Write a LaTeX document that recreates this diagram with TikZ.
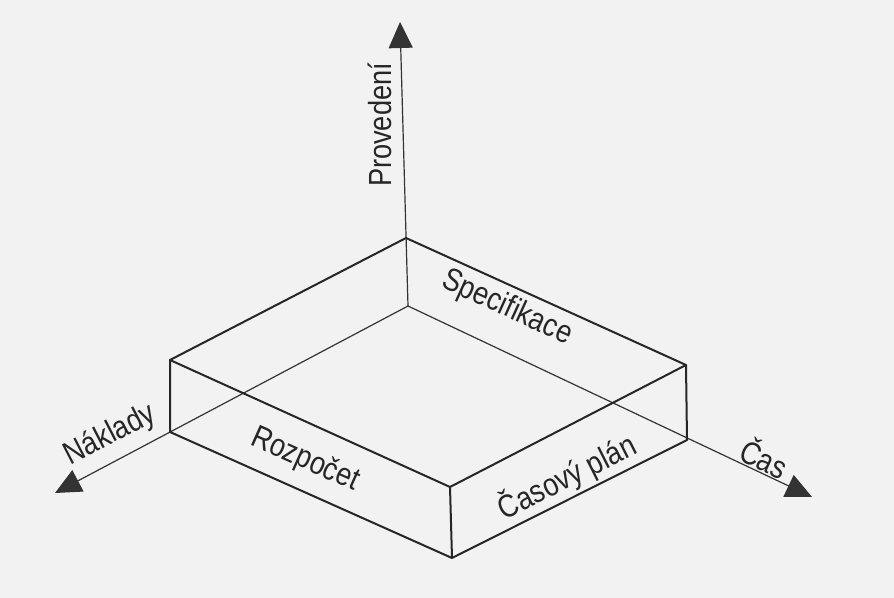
\documentclass[tikz,border=0pt]{standalone}
\usepackage{fontspec}
\setmainfont{Liberation Sans}[FakeStretch=0.85]
\usetikzlibrary{arrows.meta, calc}

\begin{document}
\begin{tikzpicture}[x=0.5pt, y=-0.5pt,
    >={Triangle[length=13pt, width=12pt]},
    axisline/.style={line width=0.6pt, black!80},
    boxedge/.style={line width=1pt, black!85, line join=round},
    lbl/.style={font=\fontsize{16}{19}\selectfont, text=black!85, inner sep=0pt}]
  % page background
  \fill[black!5] (0,0) rectangle (894,598);
  \useasboundingbox (0,0) rectangle (894,598);

  % axes origin and tips
  \coordinate (O) at (408,306);
  \coordinate (provTip) at (400,22);
  \coordinate (naklTip) at (55,493);
  \coordinate (casTip) at (812,497);

  % box corners
  \coordinate (Tb) at (406,238);
  \coordinate (Tl) at (170,360);
  \coordinate (Tr) at (686,365);
  \coordinate (Tf) at (450,487);
  \coordinate (Bl) at (170,432);
  \coordinate (Br) at (687,440);
  \coordinate (Bf) at (452,558);

  % axes
  \draw[axisline, ->] (O) -- (provTip);
  \draw[axisline, ->] (O) -- (naklTip);
  \draw[axisline, ->] (O) -- (casTip);

  % box
  \draw[boxedge] (Tl) -- (Tb) -- (Tr) -- (Tf) -- cycle;
  \draw[boxedge] (Tl) -- (Bl) -- (Bf) -- (Br) -- (Tr);
  \draw[boxedge] (Tf) -- (Bf);

  % labels
  \node[lbl, rotate=90] (proved) at (380,125) {Provedení};
  \node[lbl, rotate=-24.5] (spec) at (507,308) {Specifikace};
  \node[lbl, rotate=27.3] (nakl) at (110,435) {Náklady};
  \node[lbl, rotate=-24.1] (rozp) at (305,460) {Rozpočet};
  \node[lbl, rotate=26.7] (caspl) at (567,477) {Časový plán};
  \node[lbl, rotate=-25.3] (cas) at (765,457) {Čas};
\end{tikzpicture}
\end{document}
